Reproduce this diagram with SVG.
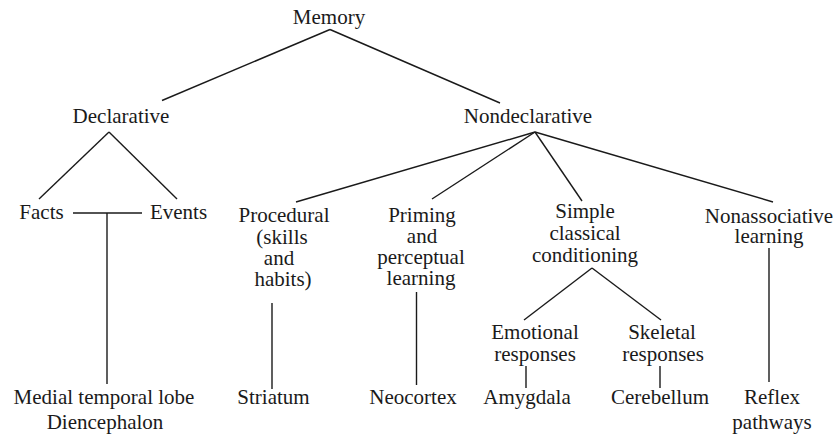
<svg xmlns="http://www.w3.org/2000/svg" width="836" height="438" viewBox="0 0 836 438">
<style>
text{font-family:"Liberation Serif","Times New Roman",serif;font-size:21px;fill:#1a1a1a;text-anchor:middle}
.c line{stroke:#1a1a1a;stroke-width:1.4;fill:none}
</style>
<rect width="836" height="438" fill="#fff"/>
<g class="c" id="connectors">
<line x1="330" y1="29.5" x2="162" y2="100.5"/>
<line x1="330" y1="29.5" x2="500" y2="103"/>
<line x1="109" y1="132" x2="39" y2="199"/>
<line x1="109" y1="132" x2="177" y2="199"/>
<line x1="73" y1="213" x2="142" y2="213"/>
<line x1="107" y1="213" x2="107" y2="384"/>
<line x1="535" y1="132" x2="296" y2="202"/>
<line x1="535" y1="132" x2="432" y2="199"/>
<line x1="535" y1="132" x2="582" y2="201"/>
<line x1="535" y1="132" x2="773" y2="202"/>
<line x1="272" y1="303" x2="272" y2="389"/>
<line x1="416.5" y1="292" x2="416.5" y2="385"/>
<line x1="592" y1="268" x2="524" y2="320"/>
<line x1="592" y1="268" x2="661" y2="320"/>
<line x1="526" y1="366" x2="526" y2="388"/>
<line x1="660" y1="366" x2="660" y2="388"/>
<line x1="769" y1="248" x2="769" y2="382"/>
</g>
<g id="memory"><text x="329" y="24">Memory</text></g>
<g id="declarative"><text x="121" y="123">Declarative</text></g>
<g id="nondeclarative"><text x="528" y="123">Nondeclarative</text></g>
<g id="facts"><text x="41.5" y="219">Facts</text></g>
<g id="events"><text x="178.5" y="219">Events</text></g>
<g id="medial"><text x="104" y="404">Medial temporal lobe</text><text x="105" y="429">Diencephalon</text></g>
<g id="procedural"><text x="284" y="222">Procedural</text><text x="282" y="244">(skills</text><text x="279" y="265">and</text><text x="283" y="286">habits)</text></g>
<g id="striatum"><text x="273.5" y="404">Striatum</text></g>
<g id="priming"><text x="422" y="222">Priming</text><text x="422" y="243">and</text><text x="421" y="264">perceptual</text><text x="421" y="285">learning</text></g>
<g id="neocortex"><text x="413" y="404">Neocortex</text></g>
<g id="simple"><text x="585" y="218">Simple</text><text x="585" y="240">classical</text><text x="585" y="262">conditioning</text></g>
<g id="emotional"><text x="535" y="339">Emotional</text><text x="535" y="361">responses</text></g>
<g id="skeletal"><text x="662" y="339">Skeletal</text><text x="663" y="361">responses</text></g>
<g id="amygdala"><text x="527" y="404">Amygdala</text></g>
<g id="cerebellum"><text x="660" y="404">Cerebellum</text></g>
<g id="nonassociative"><text x="769" y="223">Nonassociative</text><text x="769" y="243">learning</text></g>
<g id="reflex"><text x="772" y="404">Reflex</text><text x="772" y="429">pathways</text></g>
</svg>
